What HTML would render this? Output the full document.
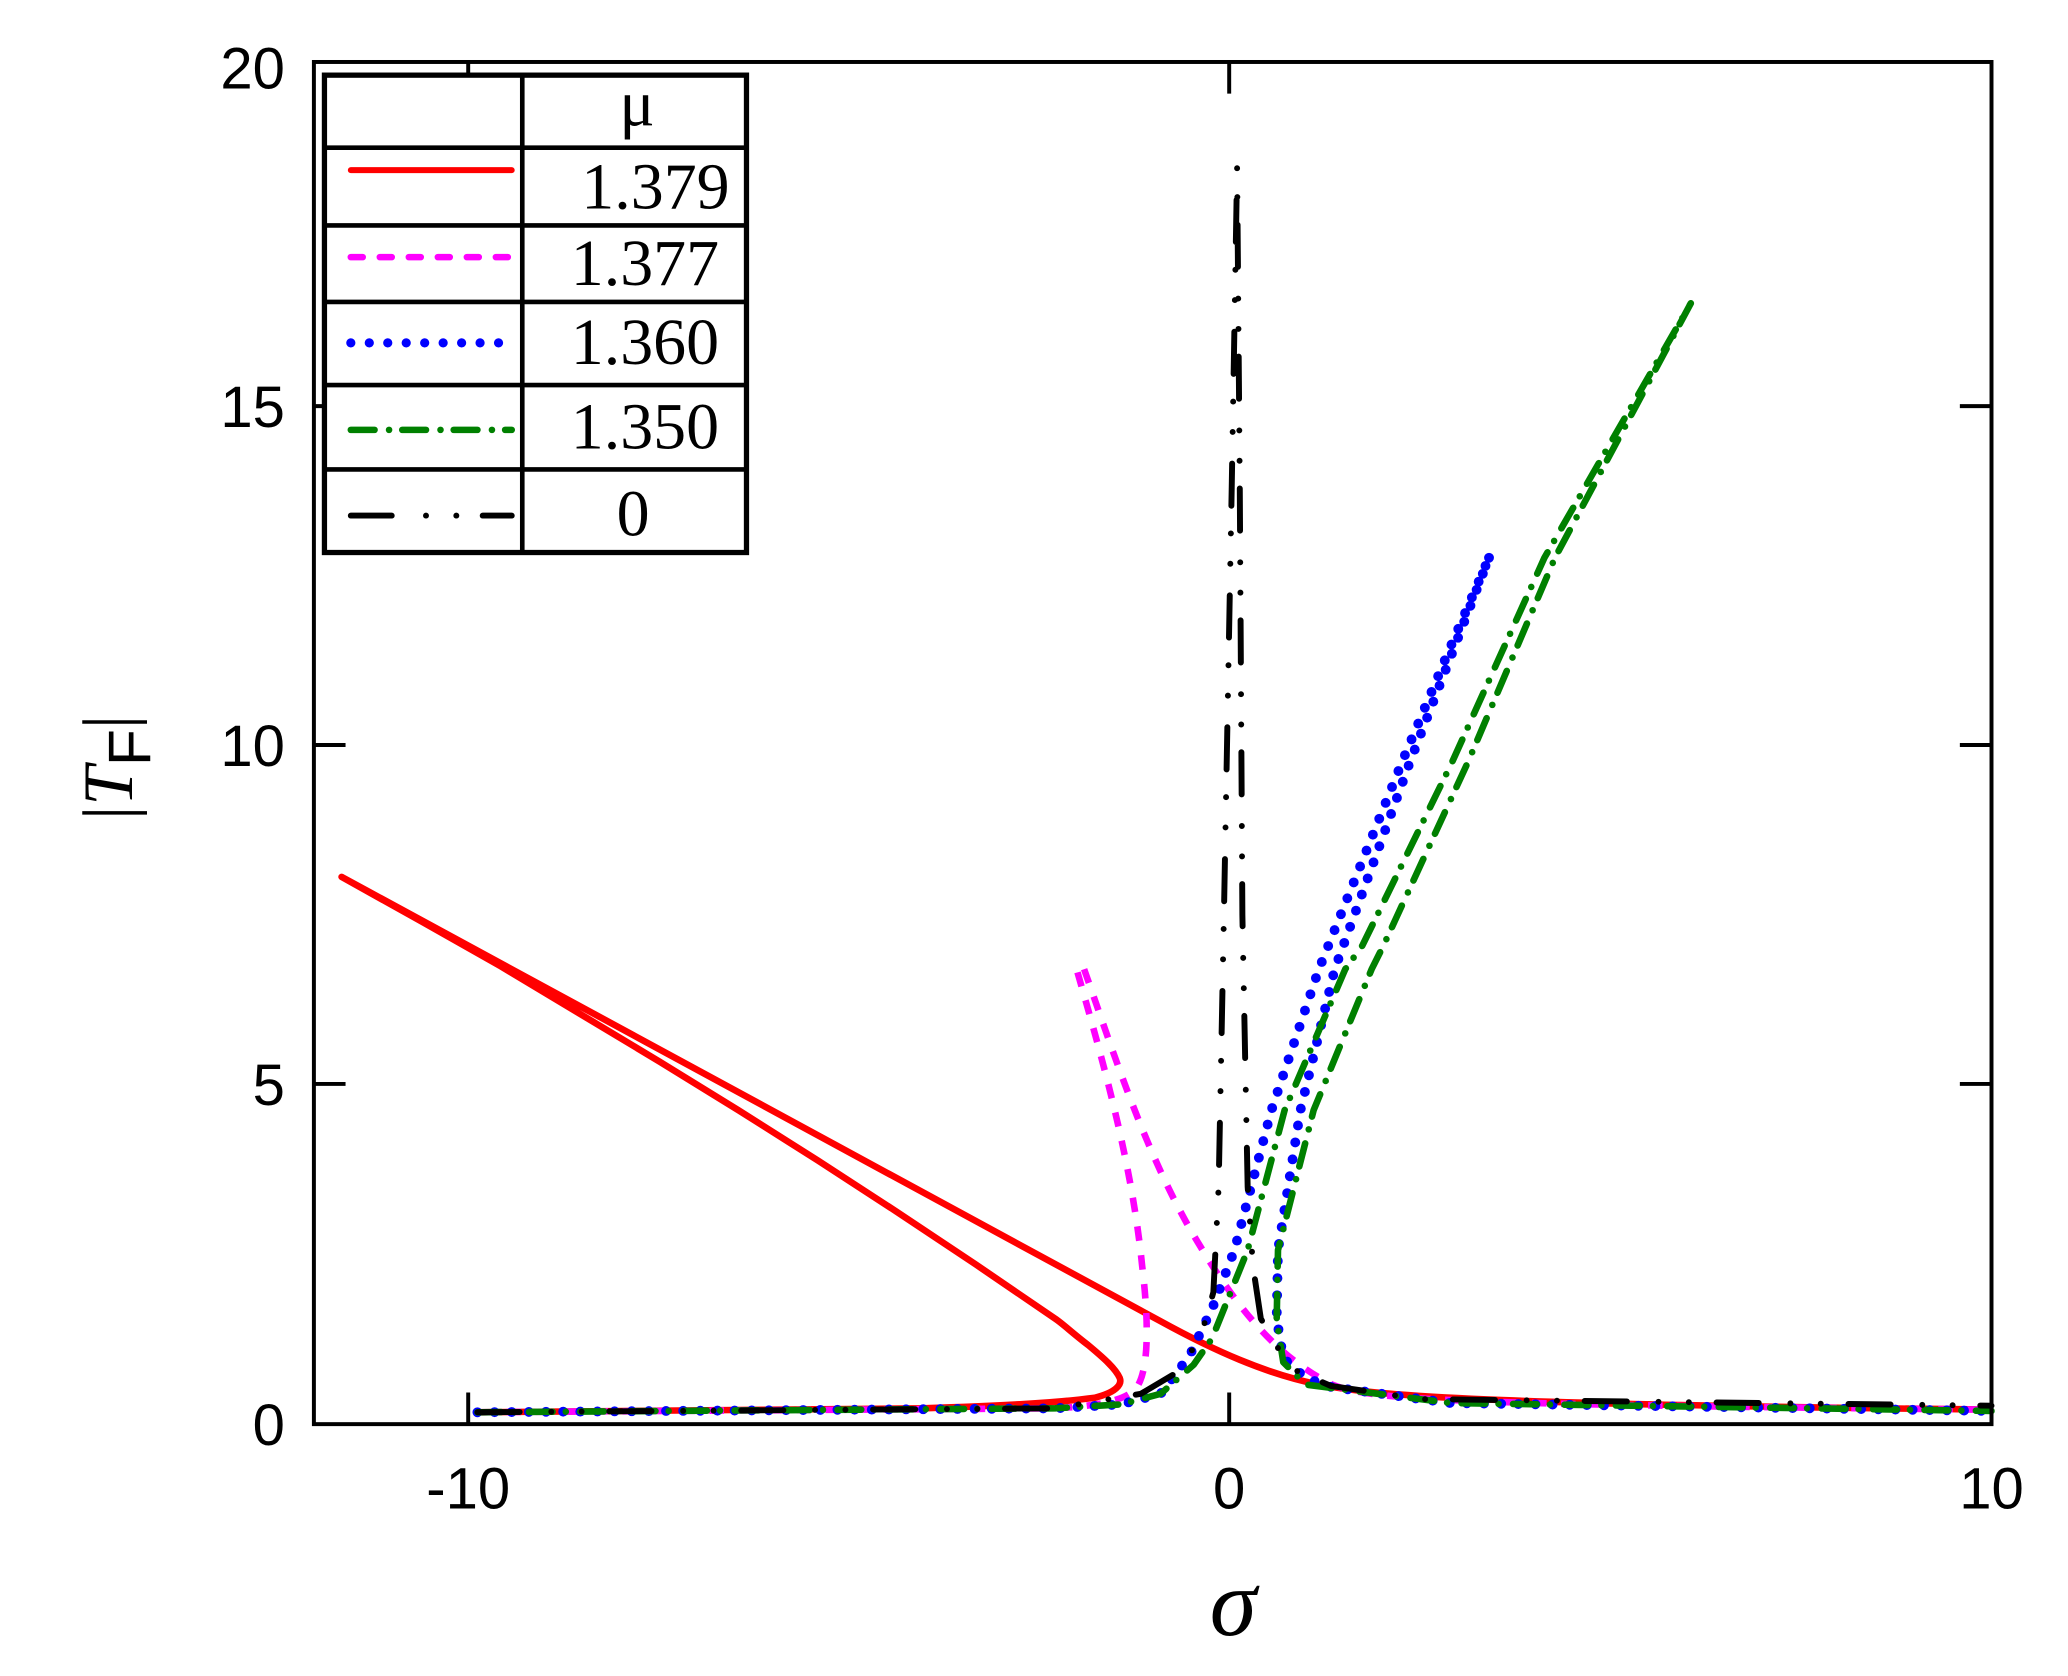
<!DOCTYPE html>
<html><head><meta charset="utf-8"><style>
html,body{margin:0;padding:0;background:#fff;}
svg{display:block;}
</style></head><body>
<svg width="2068" height="1676" viewBox="0 0 1568 1271" preserveAspectRatio="none" xmlns="http://www.w3.org/2000/svg">
<rect width="1568" height="1271" fill="#fff"/>
<g fill="none" stroke-linejoin="round">
<!-- red -->
<path d="M362,1071 L700,1068 C760,1066 800,1064 830,1060 C846,1056 851,1050 849,1045 C846,1038 837,1030 825,1020 C812,1010 806,1004 800,1000 L740,959 L680,919 L620,880 L560,842 L500,805 L440,769 L380,733 L320,699 L259,665 L880,1002 C920,1024 960,1042 1000,1050 C1050,1060 1150,1065 1510,1069" stroke="#ff0000" stroke-width="5"/>
<!-- magenta -->
<path d="M362,1071 L800,1068 C840,1066 856,1060 862,1052 C870,1040 872,1010 866,960 C858,880 835,800 816,734 M822,735 C845,800 870,880 910,945 C940,995 970,1030 1010,1050 C1040,1062 1100,1065 1510,1069" stroke="#ff00ff" stroke-width="5" stroke-dasharray="11 11"/>
<!-- blue -->
<path d="M362,1071 L800,1068 L850,1065 L880,1057 L902,1028 L920,990 L936,948 L964,842 L1000,735 L1063,578 L1100,490 L1129,423 M1129,423 L1069,578 L1012,735 L986,842 L969,948 L968,1000 L973,1030 L990,1045 L1010,1052 L1100,1064 L1510,1070" stroke="#0000ff" stroke-width="7.5" stroke-linecap="round" stroke-dasharray="0 13"/>
<!-- green -->
<path d="M362,1071 L800,1068 L850,1065 L880,1057 L905,1035 L919,1015 L946,948 L974,842 L1020,735 L1033,717 L1101,578 L1171,423 L1282,230 M1282,230 L1179,423 L1113,578 L1049,717 L1040,735 L996,842 L969,948 L968,1001 L973,1033 L990,1050 L1100,1064 L1510,1070" stroke="#008000" stroke-width="5" stroke-linecap="round" stroke-dasharray="18 10 0 11"/>
<!-- black -->
<path d="M362,1071 L800,1068 L865,1057 L892,1041 L910,1015 L920,980 L924,900 L928,694 L934,365 L938,127 L940,365 L942,694 L946,900 L950,960 L956,1000 L968,1021 L982,1039 L1009,1051 L1077,1061 L1510,1066" stroke="#000" stroke-width="4.5" stroke-linecap="round" stroke-dasharray="32 24 0 23 0 21"/>
</g>
<!-- axes frame -->
<rect x="238" y="47" width="1272" height="1033" fill="none" stroke="#000" stroke-width="3"/>
<g stroke="#000" stroke-width="3">
<line x1="355" y1="1080" x2="355" y2="1056"/><line x1="932" y1="1080" x2="932" y2="1056"/><line x1="1510" y1="1080" x2="1510" y2="1056"/>
<line x1="355" y1="47" x2="355" y2="71"/><line x1="932" y1="47" x2="932" y2="71"/>
<line x1="238" y1="822" x2="262" y2="822"/><line x1="238" y1="565" x2="262" y2="565"/><line x1="238" y1="308" x2="262" y2="308"/>
<line x1="1510" y1="822" x2="1486" y2="822"/><line x1="1510" y1="565" x2="1486" y2="565"/><line x1="1510" y1="308" x2="1486" y2="308"/>
</g>
<g font-family="Liberation Sans, Arial, sans-serif" font-size="44" fill="#000" text-anchor="end">
<text x="216" y="1096">0</text><text x="216" y="838">5</text><text x="216" y="581">10</text><text x="216" y="324">15</text><text x="216" y="67">20</text>
</g>
<g font-family="Liberation Sans, Arial, sans-serif" font-size="44" fill="#000" text-anchor="middle">
<text x="355" y="1144">-10</text><text x="932" y="1144">0</text><text x="1510" y="1144">10</text>
</g>
<text x="935" y="1240" font-family="Liberation Serif, serif" font-style="italic" font-size="72" text-anchor="middle">σ</text>
<g transform="translate(100,582) rotate(-90)">
<text x="0" y="0" font-family="Liberation Serif, serif" font-size="54" text-anchor="middle"><tspan>|</tspan><tspan font-style="italic">T</tspan><tspan font-family="Liberation Sans, sans-serif" font-size="46" dy="14">F</tspan><tspan dy="-14">|</tspan></text>
</g>
<!-- legend -->
<rect x="246" y="57" width="320" height="362" fill="#fff" stroke="#000" stroke-width="4"/>
<g stroke="#000" stroke-width="3.5">
<line x1="396" y1="57" x2="396" y2="419"/>
<line x1="246" y1="112" x2="566" y2="112"/>
<line x1="246" y1="171" x2="566" y2="171"/>
<line x1="246" y1="229" x2="566" y2="229"/>
<line x1="246" y1="292" x2="566" y2="292"/>
<line x1="246" y1="356" x2="566" y2="356"/>
</g>
<g fill="none" stroke-linecap="round">
<line x1="266" y1="129" x2="388" y2="129" stroke="#ff0000" stroke-width="4.5"/>
<line x1="266" y1="195" x2="388" y2="195" stroke="#ff00ff" stroke-width="5" stroke-dasharray="9 13"/>
<line x1="266" y1="260" x2="388" y2="260" stroke="#0000ff" stroke-width="7" stroke-dasharray="0 14"/>
<line x1="266" y1="326" x2="388" y2="326" stroke="#008000" stroke-width="5" stroke-dasharray="18 11 0 10"/>
<line x1="266" y1="391" x2="388" y2="391" stroke="#000" stroke-width="4.5" stroke-dasharray="31 26 0 23 0 20"/>
</g>
<g font-family="Liberation Serif, serif" fill="#000" text-anchor="middle">
<text x="483" y="95" font-size="50">μ</text>
<text x="497" y="158" font-size="50">1.379</text>
<text x="489" y="216" font-size="50">1.377</text>
<text x="489" y="276" font-size="50">1.360</text>
<text x="489" y="340" font-size="50">1.350</text>
<text x="480" y="406" font-size="50">0</text>
</g>
</svg>
</body></html>
